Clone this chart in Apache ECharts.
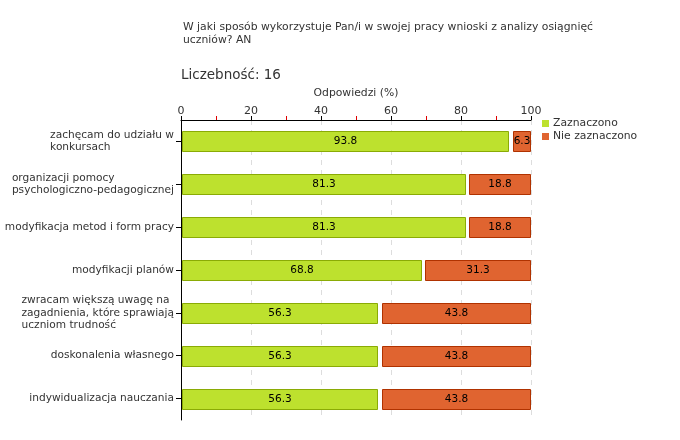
<!DOCTYPE html>
<html><head><meta charset="utf-8">
<script src="https://cdn.jsdelivr.net/npm/echarts@6/dist/echarts.min.js"></script>
<style>html,body{margin:0;padding:0;background:#fff}#c{width:680px;height:440px}</style>
</head><body><div id="c"></div>
<script>
var categories = [
  "zachęcam do udziału w\nkonkursach",
  "organizacji pomocy\npsychologiczno-pedagogicznej",
  "modyfikacja metod i form pracy",
  "modyfikacji planów",
  "zwracam większą uwagę na\nzagadnienia, które sprawiają\nuczniom trudność",
  "doskonalenia własnego",
  "indywidualizacja nauczania"
];
var zaznaczono = [93.8, 81.3, 81.3, 68.8, 56.3, 56.3, 56.3];
var nieZaznaczono = [6.3, 18.8, 18.8, 31.3, 43.8, 43.8, 43.8];
var seriesNames = ["Zaznaczono", "Nie zaznaczono"];
var titleText = "W jaki sposób wykorzystuje Pan/i w swojej pracy wnioski z analizy osiągnięć\nuczniów? AN";
var countText = "Liczebność: 16";
var axisName = "Odpowiedzi (%)";

var FONT = "DejaVu Sans";
var GREEN = "#bde12e", GREEN_B = "#8aab05";
var ORANGE = "#e06430", ORANGE_B = "#b03200";

function buildData(starts, values) {
  return values.map(function (v, i) { return [starts[i], starts[i] + v, i, v]; });
}
var zeros = zaznaczono.map(function () { return 0; });

function makeRender(fill, stroke, inset) {
  return function (params, api) {
    var s = api.value(0), e = api.value(1), cat = api.value(2), v = api.value(3);
    var p0 = api.coord([s, cat]);
    var p1 = api.coord([Math.min(e, 100), cat]);
    var h = 20;
    var x0 = Math.round(p0[0] + inset) + 0.5;
    var x1 = Math.round(p1[0]) - 0.5;
    var y0 = Math.round(p0[1] - h / 2) + 0.5;
    return {
      type: 'rect',
      shape: { x: x0, y: y0, width: x1 - x0, height: h },
      style: { fill: fill, stroke: stroke, lineWidth: 1 },
      textContent: { style: { text: v.toFixed(1), fill: '#000', font: '10.5px "' + FONT + '"' } },
      textConfig: { position: 'inside' }
    };
  };
}

function richLabel(val) {
  return val.split("\n").map(function (l) { return "{l|" + l + "}"; }).join("\n");
}

var chart = echarts.init(document.getElementById('c'), null, { renderer: 'canvas' });
chart.setOption({
  animation: false,
  textStyle: { fontFamily: FONT },
  title: [
    { text: titleText, left: 183, top: 21, padding: 0, textStyle: { fontSize: 10.8, fontWeight: 'normal', color: '#333', lineHeight: 12.5, fontFamily: FONT } },
    { text: countText, left: 181, top: 68, padding: 0, textStyle: { fontSize: 13.5, fontWeight: 'normal', color: '#333', fontFamily: FONT } }
  ],
  legend: {
    orient: 'vertical', left: 542, top: 118, padding: 0, itemWidth: 7, itemHeight: 7, itemGap: 2, icon: 'rect',
    textStyle: { fontSize: 10.8, color: '#333', fontFamily: FONT, padding: [0, 0, 0, -1] },
    data: seriesNames
  },
  grid: { left: 181, right: 149, top: 120, bottom: 20, containLabel: false },
  xAxis: [
    {
      type: 'value', position: 'top', min: 0, max: 100, interval: 10,
      axisLine: { show: false },
      axisTick: { show: true, length: 4, lineStyle: { color: '#e00000', width: 1 } },
      axisLabel: { show: false },
      splitLine: { show: false }
    },
    {
      type: 'value', position: 'top', min: 0, max: 100, interval: 20,
      name: axisName, nameLocation: 'middle', nameGap: 21,
      nameTextStyle: { fontSize: 10.8, color: '#333', fontFamily: FONT },
      axisLine: { show: true, lineStyle: { color: '#000', width: 1 } },
      axisTick: { show: true, length: 4, lineStyle: { color: '#000' } },
      axisLabel: { fontSize: 11, color: '#333', margin: 3, fontFamily: FONT },
      splitLine: { show: true, lineStyle: { color: '#ddd', type: [5, 5] } }
    }
  ],
  yAxis: {
    type: 'category', data: categories, inverse: true,
    axisLine: { show: true, lineStyle: { color: '#000', width: 1 } },
    axisTick: { show: true, alignWithLabel: true, length: 5, lineStyle: { color: '#000' } },
    axisLabel: {
      fontSize: 10.6, color: '#333', margin: 7, fontFamily: FONT, lineHeight: 12.5,
      formatter: richLabel,
      rich: { l: { align: 'left', fontSize: 10.6, color: '#333', fontFamily: FONT, lineHeight: 12.5 } }
    },
    splitLine: { show: false }
  },
  series: [
    {
      name: seriesNames[0], type: 'custom', itemStyle: { color: GREEN },
      xAxisIndex: 1,
      renderItem: makeRender(GREEN, GREEN_B, 1),
      encode: { x: [0, 1], y: 2 },
      data: buildData(zeros, zaznaczono)
    },
    {
      name: seriesNames[1], type: 'custom', itemStyle: { color: ORANGE },
      xAxisIndex: 1,
      renderItem: makeRender(ORANGE, ORANGE_B, 3.5),
      encode: { x: [0, 1], y: 2 },
      data: buildData(zaznaczono, nieZaznaczono)
    }
  ]
});
</script>
</body></html>
